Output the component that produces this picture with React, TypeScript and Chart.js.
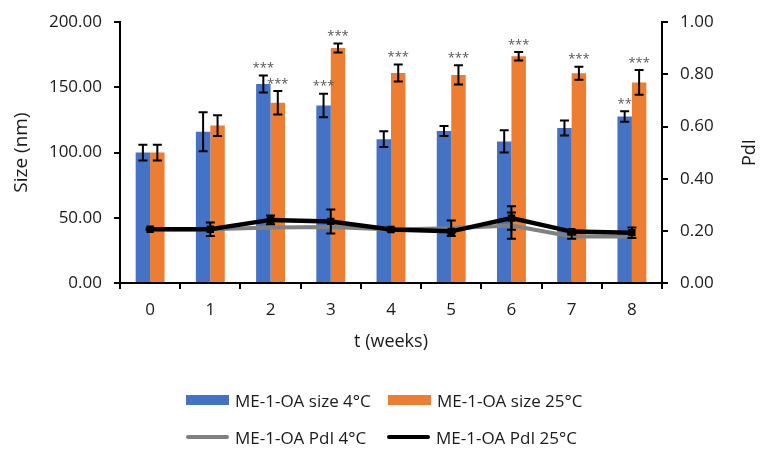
import React, { useEffect, useRef } from "react";
import { Chart, registerables } from "chart.js";

Chart.register(...registerables);

const weeks = ["0", "1", "2", "3", "4", "5", "6", "7", "8"];
const size4 = [100, 116, 152.6, 136.2, 110.3, 116.6, 108.6, 118.9, 127.7];
const size4Err = [6, 15, 6.5, 9, 6, 3.8, 8.5, 5.7, 4];
const size25 = [100, 120.7, 138.2, 180.2, 161.1, 159.6, 173.9, 160.9, 153.8];
const size25Err = [6, 8, 9, 3.5, 6.5, 7.4, 3.3, 5, 9.5];
const pdi4 = [0.206, 0.206, 0.213, 0.215, 0.205, 0.21, 0.22, 0.178, 0.178];
const pdi4Err = [0, 0, 0, 0, 0, 0.03, 0.05, 0.008, 0];
const pdi25 = [0.206, 0.206, 0.242, 0.236, 0.205, 0.198, 0.249, 0.197, 0.193];
const pdi25Err = [0.003, 0.026, 0.017, 0.046, 0.005, 0.005, 0.045, 0.005, 0.02];
const stars4 = ["", "", "***", "***", "", "", "", "", "**"];
const stars25 = ["", "", "***", "***", "***", "***", "***", "***", "***"];
const sizeTicks = [0, 50, 100, 150, 200];
const pdiTicks = [0, 0.2, 0.4, 0.6, 0.8, 1.0];
const rightTitle = "PdI";

const legendItems = [
  { label: "ME-1-OA size 4°C", color: "#4472C4", kind: "box" },
  { label: "ME-1-OA size 25°C", color: "#ED7D31", kind: "box" },
  { label: "ME-1-OA PdI 4°C", color: "#808080", kind: "line" },
  { label: "ME-1-OA PdI 25°C", color: "#000000", kind: "line" },
];

const FONT = "'Open Sans', sans-serif";
const TXT = "#1a1a1a";

const errorPlugin = {
  id: "errorBarsStars",
  afterDatasetsDraw(chart: any) {
    const ctx = chart.ctx;
    ctx.save();
    chart.data.datasets.forEach((ds: any, di: number) => {
      const meta = chart.getDatasetMeta(di);
      const ys = chart.scales[ds.yAxisID];
      meta.data.forEach((el: any, i: number) => {
        const v = ds.data[i];
        const e = ds.errors ? ds.errors[i] : 0;
        const x = el.x;
        let top = ys.getPixelForValue(v);
        if (e) {
          const yt = ys.getPixelForValue(v + e);
          const yb = ys.getPixelForValue(v - e);
          top = yt;
          ctx.strokeStyle = "#000";
          ctx.lineWidth = 2;
          ctx.beginPath();
          ctx.moveTo(x, yt);
          ctx.lineTo(x, yb);
          ctx.moveTo(x - 4.5, yt);
          ctx.lineTo(x + 4.5, yt);
          ctx.moveTo(x - 4.5, yb);
          ctx.lineTo(x + 4.5, yb);
          ctx.stroke();
        }
        if (ds.stars && ds.stars[i]) {
          ctx.fillStyle = "#555";
          ctx.font = `13px ${FONT}`;
          ctx.textAlign = "center";
          ctx.textBaseline = "middle";
          ctx.fillText(ds.stars[i], x, top - 7);
        }
      });
    });
    // right axis title, rotated like the left one
    const area = chart.chartArea;
    ctx.translate(750, (area.top + area.bottom) / 2);
    ctx.rotate(-Math.PI / 2);
    ctx.fillStyle = TXT;
    ctx.font = `18px ${FONT}`;
    ctx.textAlign = "center";
    ctx.textBaseline = "middle";
    ctx.fillText(rightTitle, 0, 0);
    ctx.restore();
  },
};

export default function App() {
  const ref = useRef<HTMLCanvasElement>(null);

  useEffect(() => {
    if (!ref.current) return;
    const chart = new Chart(ref.current, {
      type: "bar",
      data: {
        labels: weeks,
        datasets: [
          {
            type: "bar",
            label: legendItems[0].label,
            data: size4,
            errors: size4Err,
            stars: stars4,
            backgroundColor: "#4472C4",
            yAxisID: "y",
            order: 2,
            categoryPercentage: 0.48,
            barPercentage: 1,
          } as any,
          {
            type: "bar",
            label: legendItems[1].label,
            data: size25,
            errors: size25Err,
            stars: stars25,
            backgroundColor: "#ED7D31",
            yAxisID: "y",
            order: 3,
            categoryPercentage: 0.48,
            barPercentage: 1,
          } as any,
          {
            type: "line",
            label: legendItems[2].label,
            data: pdi4,
            errors: pdi4Err,
            borderColor: "#808080",
            backgroundColor: "#808080",
            borderWidth: 4,
            pointRadius: 0,
            yAxisID: "y1",
            order: 1,
          } as any,
          {
            type: "line",
            label: legendItems[3].label,
            data: pdi25,
            errors: pdi25Err,
            borderColor: "#000000",
            backgroundColor: "#000000",
            borderWidth: 4.5,
            pointStyle: "rect",
            pointRadius: 2,
            yAxisID: "y1",
            order: 0,
          } as any,
        ],
      },
      options: {
        responsive: false,
        animation: false,
        layout: { padding: { top: 19, left: 0, right: 0, bottom: 97 } },
        plugins: { legend: { display: false }, tooltip: { enabled: false } },
        scales: {
          x: {
            grid: {
              display: true,
              drawOnChartArea: false,
              drawTicks: true,
              tickLength: 6,
              color: "#000",
              lineWidth: 2,
              offset: true,
            },
            border: { color: "#000", width: 2 },
            ticks: { color: TXT, font: { family: FONT, size: 17 }, padding: 11 },
            title: {
              display: true,
              text: "t (weeks)",
              color: TXT,
              font: { family: FONT, size: 18 },
              padding: 4,
            },
            afterFit: (s: any) => {
              s.height = 74;
            },
          },
          y: {
            position: "left",
            min: 0,
            max: 200,
            afterBuildTicks: (s: any) => {
              s.ticks = sizeTicks.map((v) => ({ value: v }));
            },
            grid: {
              display: true,
              drawOnChartArea: false,
              drawTicks: true,
              tickLength: 6,
              color: "#000",
              lineWidth: 2,
            },
            border: { color: "#000", width: 2 },
            ticks: {
              color: TXT,
              font: { family: FONT, size: 17 },
              padding: 12,
              callback: (v: any) => Number(v).toFixed(2),
            },
            title: {
              display: true,
              text: "Size (nm)",
              color: TXT,
              font: { family: FONT, size: 19 },
              padding: 10,
            },
            afterFit: (s: any) => {
              s.width = 120;
            },
          },
          y1: {
            position: "right",
            min: 0,
            max: 1,
            afterBuildTicks: (s: any) => {
              s.ticks = pdiTicks.map((v) => ({ value: v }));
            },
            grid: {
              display: true,
              drawOnChartArea: false,
              drawTicks: true,
              tickLength: 6,
              color: "#000",
              lineWidth: 2,
            },
            border: { color: "#000", width: 2 },
            ticks: {
              color: TXT,
              font: { family: FONT, size: 17 },
              padding: 12,
              callback: (v: any) => Number(v).toFixed(2),
            },
            title: { display: false },
            afterFit: (s: any) => {
              s.width = 105;
            },
          },
        },
      } as any,
      plugins: [errorPlugin],
    });
    return () => chart.destroy();
  }, []);

  const legendPos = [
    { left: 186, top: 400 },
    { left: 388, top: 400 },
    { left: 186, top: 437 },
    { left: 387, top: 437 },
  ];

  return (
    <div style={{ position: "absolute", left: 0, top: 0, width: 767, height: 454, background: "#fff" }}>
      <canvas ref={ref} width={767} height={454} style={{ display: "block" }} />
      {legendItems.map((it, i) => (
        <div
          key={it.label}
          style={{
            position: "absolute",
            left: legendPos[i].left,
            top: legendPos[i].top - 12,
            height: 24,
            display: "flex",
            alignItems: "center",
            fontFamily: FONT,
            fontSize: 17,
            color: TXT,
            whiteSpace: "nowrap",
          }}
        >
          <span
            style={{
              display: "inline-block",
              width: 43,
              height: it.kind === "box" ? 10 : 4,
              borderRadius: it.kind === "box" ? 0 : 2,
              background: it.color,
              marginRight: 6,
            }}
          />
          <span>{it.label}</span>
        </div>
      ))}
    </div>
  );
}
